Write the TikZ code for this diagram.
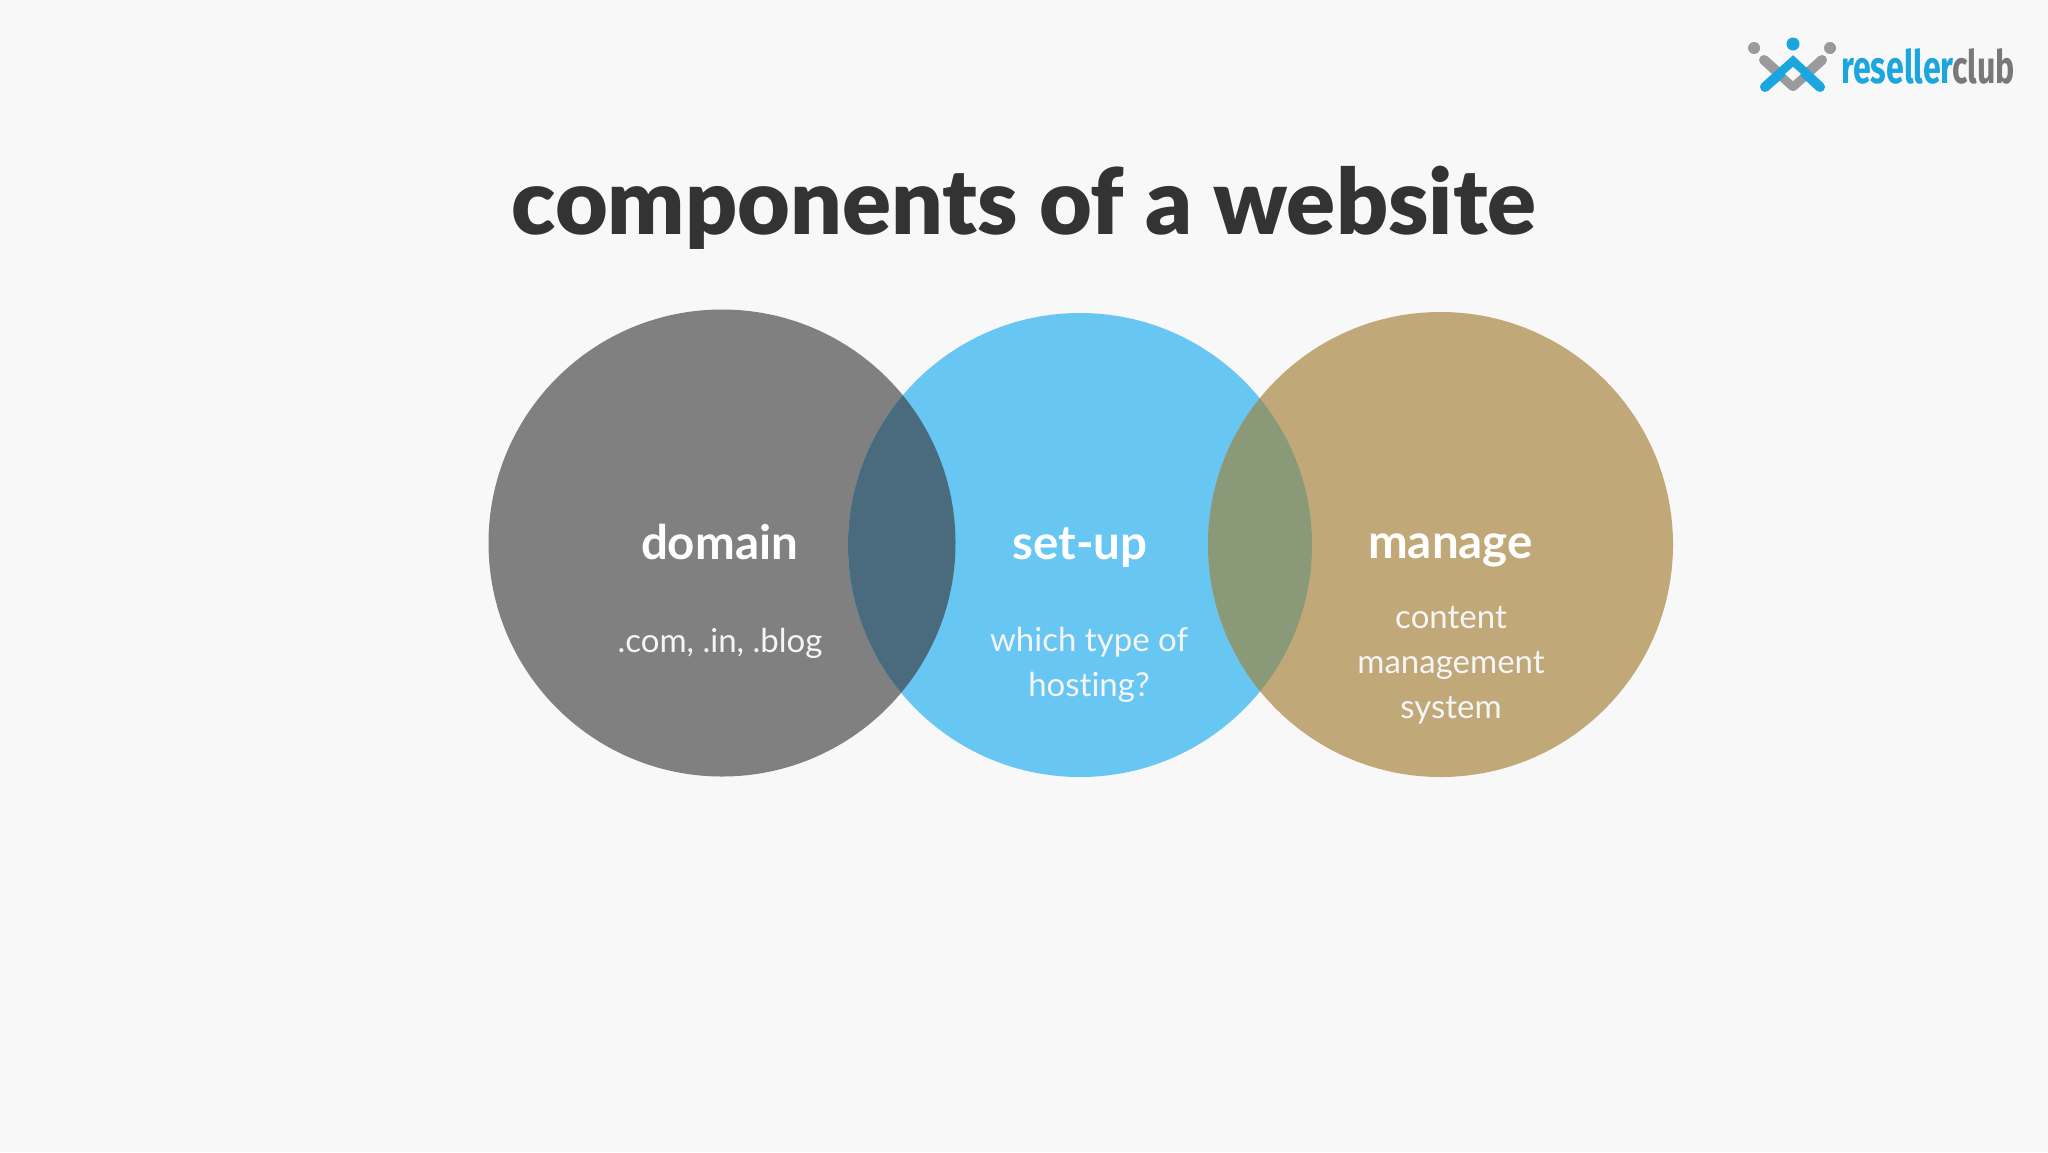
\documentclass[tikz,border=0pt]{standalone}
\usepackage{fontspec}
\setmainfont{Lato}[Ligatures=NoCommon]
\newfontfamily\titlefont{Lato Black}[Ligatures=NoCommon]
\newfontfamily\logofont{Fira Sans}
\definecolor{bgc}{HTML}{F8F8F8}
\definecolor{cgray}{HTML}{808080}
\definecolor{cblue}{HTML}{68C6F2}
\definecolor{ctan}{HTML}{C0A878}
\definecolor{ovone}{HTML}{4A6B7E}
\definecolor{ovtwo}{HTML}{8A9A78}
\definecolor{ctitle}{HTML}{333333}
\definecolor{lblue}{HTML}{1BA6E0}
\definecolor{lgray}{HTML}{77787A}
\tikzset{
  head/.style={text=white,font=\fontsize{47.5}{47.5}\selectfont\bfseries,anchor=base,inner sep=0pt},
  sub/.style={text=#1,font=\fontsize{33}{33}\selectfont,anchor=base,inner sep=0pt},
  sub/.default=white!92!cgray,
  armb/.style={draw=lblue,line width=10pt,line cap=round},
  armg/.style={draw=lgray!75,line width=10pt,line cap=round}
}
\begin{document}
\begin{tikzpicture}[x=1pt,y=-1pt]
\useasboundingbox (0,0) rectangle (2048,1152);
\fill[bgc] (0,0) rectangle (2048,1152);
% circles
\fill[cgray] (722,543) circle[radius=233.5];
\fill[cblue] (1080,545) circle[radius=232];
\fill[ctan] (1440.5,544.5) circle[radius=232.5];
\begin{scope}
  \clip (722,543) circle[radius=233.5];
  \fill[ovone] (1080,545) circle[radius=232];
\end{scope}
\begin{scope}
  \clip (1080,545) circle[radius=232];
  \fill[ovtwo] (1440.5,544.5) circle[radius=232.5];
\end{scope}
% title
\node[anchor=base,inner sep=0pt,text=ctitle,font=\titlefont\fontsize{91}{91}\selectfont] (title) at (1024,234) {components of a website};
% labels
\node[head] (domain) at (719.5,559) {domain};
\node[head] (setup) at (1080,559) {set-up};
\node[head] (manage) at (1450.5,558) {manage};
\node[sub] (tld) at (720,652) {.com, .in, .blog};
\node[sub] (hostA) at (1089,651) {which type of};
\node[sub] (hostB) at (1089,696) {hosting?};
\node[sub] (cmsA) at (1451,628) {content};
\node[sub] (cmsB) at (1451,673) {management};
\node[sub] (cmsC) at (1451,718) {system};
% logo
\fill[lgray!75] (1754,48) circle[radius=6];
\fill[lgray!75] (1830,48) circle[radius=6];
\fill[lblue] (1793,44) circle[radius=6.5];
\draw[armg] (1764,60) -- (1793,86);
\draw[armg] (1822,60) -- (1793,86);
\draw[armb] (1765,87) -- (1793,62) -- (1820,87);
\fill[bgc] (1793,67) -- (1801,74) -- (1793,81) -- (1785,74) -- cycle;
\node[anchor=base west,inner sep=0pt,text=lblue,font=\logofont\fontsize{46}{46}\selectfont\bfseries,xscale=0.70] (lreseller) at (1841,83) {reseller};
\node[anchor=base west,inner sep=0pt,text=lgray,font=\logofont\fontsize{46}{46}\selectfont\bfseries,xscale=0.70] (lclub) at (1952,83) {club};
\end{tikzpicture}
\end{document}
